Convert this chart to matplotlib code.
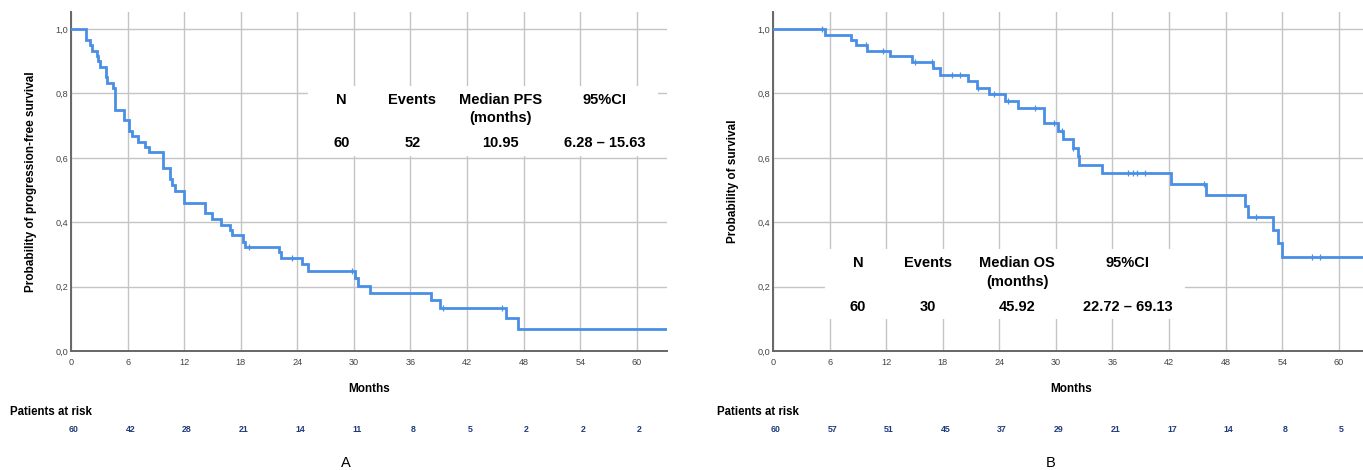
import numpy as np
import matplotlib
matplotlib.use("Agg")
import matplotlib.pyplot as plt
from matplotlib.patches import Rectangle
from matplotlib import transforms

plt.rcParams["font.family"] = ["Liberation Sans", "DejaVu Sans"]

# --- panel A: progression-free survival (step times in months, survival after step)
pfs_t = [0, 1.63, 1.98, 2.23, 2.76, 2.87, 3.11, 3.75, 3.86, 4.46, 4.63, 4.70, 5.59,
         6.15, 6.50, 7.10, 7.80, 8.24, 9.76, 10.47, 10.70, 11.00, 11.95, 14.20, 14.90,
         15.95, 16.83, 17.08, 18.24, 18.40, 22.06, 22.30, 24.50, 25.12, 30.10, 30.40,
         31.75, 38.20, 39.10, 46.10, 47.40]
pfs_s = [1.0, 0.967, 0.950, 0.933, 0.917, 0.900, 0.883, 0.850, 0.833, 0.817, 0.783,
         0.750, 0.717, 0.683, 0.667, 0.650, 0.633, 0.617, 0.567, 0.533, 0.517, 0.497,
         0.461, 0.428, 0.410, 0.392, 0.376, 0.361, 0.340, 0.324, 0.306, 0.288, 0.270,
         0.249, 0.226, 0.203, 0.181, 0.158, 0.135, 0.101, 0.068]
pfs_cens = [18.88, 23.47, 29.84, 39.40, 45.75]
pfs_risk = [60, 42, 28, 21, 14, 11, 8, 5, 2, 2, 2]
pfs_head = ["N", "Events", "Median PFS", "95%CI"]
pfs_vals = ["60", "52", "10.95", "6.28 \u2013 15.63"]

# --- panel B: overall survival
os_t = [0, 5.51, 8.24, 8.80, 10.00, 12.40, 14.70, 16.93, 17.74, 20.70, 21.60, 22.90,
        24.60, 26.00, 28.70, 30.20, 30.75, 31.80, 32.35, 32.50, 34.85, 42.20, 45.92,
        50.00, 50.42, 52.97, 53.60, 54.00]
os_s = [1.0, 0.983, 0.967, 0.950, 0.933, 0.915, 0.897, 0.879, 0.858, 0.838, 0.817,
        0.798, 0.777, 0.755, 0.708, 0.683, 0.657, 0.631, 0.605, 0.579, 0.553, 0.519,
        0.485, 0.449, 0.416, 0.375, 0.334, 0.291]
os_cens = [5.16, 9.90, 11.63, 15.05, 16.86, 18.95, 19.80, 21.77, 23.44, 24.95, 27.78,
           29.85, 30.60, 31.85, 37.68, 38.14, 38.65, 39.45, 45.73, 51.20, 57.20, 58.00]
os_risk = [60, 57, 51, 45, 37, 29, 21, 17, 14, 8, 5]
os_head = ["N", "Events", "Median OS", "95%CI"]
os_vals = ["60", "30", "45.92", "22.72 \u2013 69.13"]

risk_months = [0, 6, 12, 18, 24, 30, 36, 42, 48, 54, 60]
y_ticks = [0.0, 0.2, 0.4, 0.6, 0.8, 1.0]
y_tick_labels = ["0,0", "0,2", "0,4", "0,6", "0,8", "1,0"]

XMAX = 63.2
BLUE = "#4a8fe6"
NAVY = "#1f3a78"
W, H = 1363, 470


def km_panel(ax, t, s, cens, ylabel):
    tt = list(t) + [XMAX]
    ss = list(s) + [s[-1]]
    ax.step(tt, ss, where="post", color=BLUE, lw=2.0, zorder=3, solid_joinstyle="miter")
    idx = np.searchsorted(t, cens, side="right") - 1
    ax.plot(cens, np.array(s)[idx], ls="none", marker="|", ms=5, mew=0.9,
            color=BLUE, zorder=3)
    ax.set_xlim(0, XMAX)
    ax.set_ylim(0, 1.053)
    ax.set_xticks(risk_months)
    ax.set_yticks(y_ticks)
    ax.set_yticklabels(y_tick_labels)
    ax.set_axisbelow(True)
    ax.grid(True, color="#c4c4c4", lw=1.0)
    for side in ("top", "right"):
        ax.spines[side].set_visible(False)
    for side in ("left", "bottom"):
        ax.spines[side].set_color("#666666")
        ax.spines[side].set_linewidth(1.4)
    ax.tick_params(length=0, labelsize=6.6, labelcolor="#444444")
    ax.tick_params(axis="x", pad=5)
    ax.tick_params(axis="y", pad=2)
    ax.set_xlabel("Months", fontsize=8.5, fontweight="bold")
    ax.xaxis.set_label_coords(0.5, -0.094)
    ax.set_ylabel(ylabel, fontsize=8.5, fontweight="bold")
    ax.yaxis.set_label_coords(-0.057, 0.5)


def stats_table(ax, box, cols, head_y, sub_y, val_y, head, vals):
    x0, x1, y0, y1 = box
    ax.add_patch(Rectangle((x0, y0), x1 - x0, y1 - y0, facecolor="white",
                           edgecolor="none", zorder=1))
    for x, h, v in zip(cols, head, vals):
        ax.text(x, head_y, h, ha="center", va="center", fontsize=10.5,
                fontweight="bold", zorder=4)
        ax.text(x, val_y, v, ha="center", va="center", fontsize=10.5,
                fontweight="bold", zorder=4)
    ax.text(cols[2], sub_y, "(months)", ha="center", va="center", fontsize=10.5,
            fontweight="bold", zorder=4)


def risk_row(fig, ax, counts, label_x):
    tr = transforms.blended_transform_factory(ax.transData, fig.transFigure)
    for m, n in zip(risk_months, counts):
        ax.text(m + 0.3, 1 - 430 / H, str(n), transform=tr, ha="center", va="center",
                fontsize=6.3, fontweight="bold", color=NAVY, clip_on=False)
    fig.text(label_x, 1 - 412 / H, "Patients at risk", ha="left", va="center",
             fontsize=8.3, fontweight="bold")


fig = plt.figure(figsize=(W / 100, H / 100), dpi=100)
ax_w = 596 / W
ax_b = 1 - 351 / H
ax_h = 339 / H
axA = fig.add_axes([71 / W, ax_b, ax_w, ax_h])
axB = fig.add_axes([773 / W, ax_b, ax_w, ax_h])

km_panel(axA, pfs_t, pfs_s, pfs_cens, "Probability of progression-free survival")
km_panel(axB, os_t, os_s, os_cens, "Probability of survival")

stats_table(axA, (25.1, 62.2, 0.606, 0.824), [28.7, 36.2, 45.5, 56.6],
            0.781, 0.725, 0.647, pfs_head, pfs_vals)
stats_table(axB, (5.5, 43.7, 0.0995, 0.317), [9.0, 16.4, 25.9, 37.6],
            0.274, 0.215, 0.137, os_head, os_vals)

risk_row(fig, axA, pfs_risk, 10 / W)
risk_row(fig, axB, os_risk, 717 / W)

fig.text(346 / W, 1 - 463 / H, "A", ha="center", va="center", fontsize=10.5)
fig.text(1051 / W, 1 - 463 / H, "B", ha="center", va="center", fontsize=10.5)

fig.savefig("out.png", dpi=100)
